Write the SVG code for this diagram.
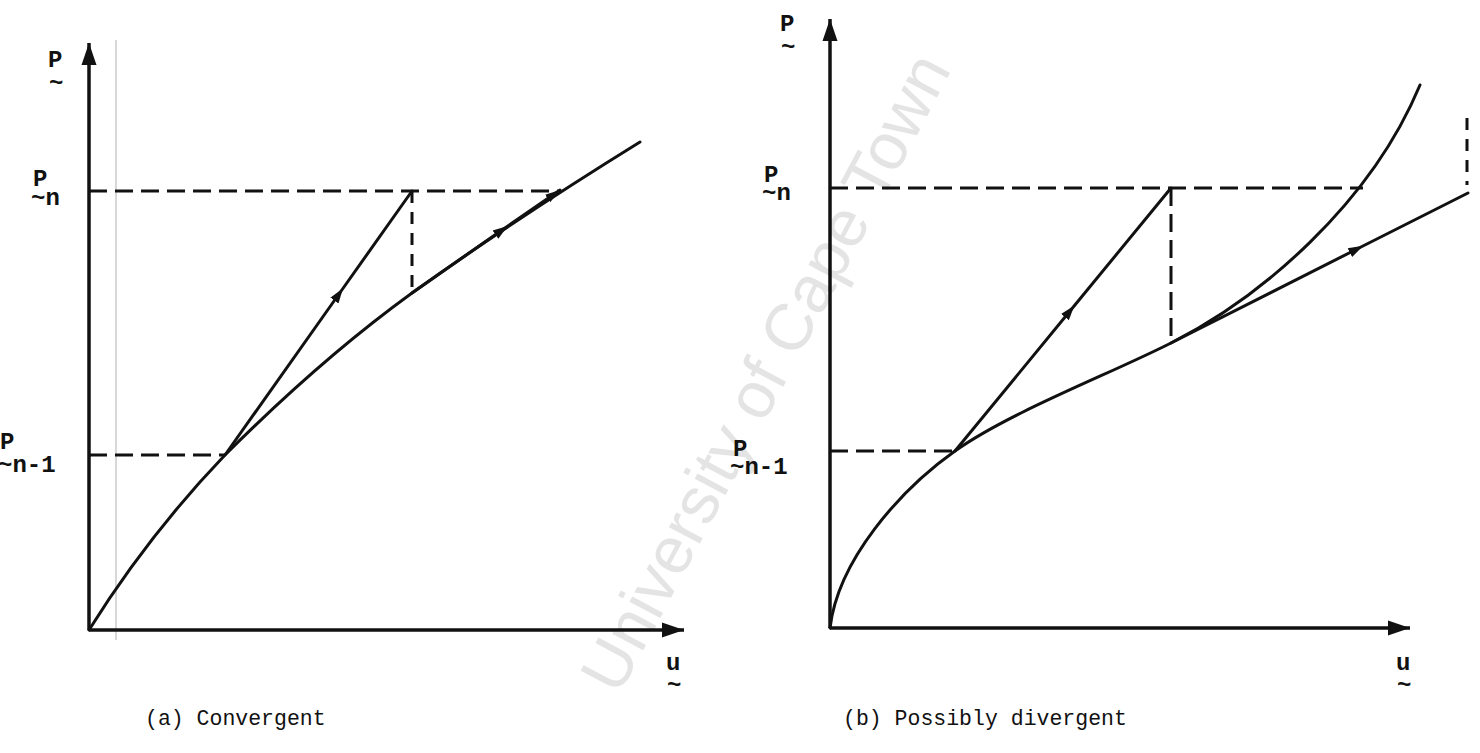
<svg xmlns="http://www.w3.org/2000/svg" width="1480" height="753" viewBox="0 0 1480 753">
<defs>
<marker id="axArr" markerUnits="userSpaceOnUse" markerWidth="24" markerHeight="18" viewBox="0 -9 24 18" refX="22" refY="0" orient="auto">
<path d="M0,-7.5 L22,0 L0,7.5 z" fill="#111"/>
</marker>
<marker id="smArr" markerUnits="userSpaceOnUse" markerWidth="16" markerHeight="12" viewBox="0 -6 16 12" refX="8" refY="0" orient="auto">
<path d="M0,-5 L15,0 L0,5 z" fill="#111"/>
</marker>
<marker id="endArr" markerUnits="userSpaceOnUse" markerWidth="16" markerHeight="12" viewBox="0 -6 16 12" refX="15" refY="0" orient="auto">
<path d="M0,-4.5 L15,0 L0,4.5 z" fill="#111"/>
</marker>
</defs>
<style>
.ax{stroke:#111;stroke-width:3.5;fill:none}
.ln{stroke:#111;stroke-width:3;fill:none;stroke-linecap:round}
.ds{stroke:#111;stroke-width:3;fill:none;stroke-dasharray:18 8}
.dv{stroke:#111;stroke-width:3;fill:none;stroke-dasharray:12 9}
.lb{font-family:"Liberation Mono","DejaVu Sans Mono",monospace;font-size:24px;font-weight:bold;fill:#111}
.cap{font-family:"Liberation Mono","DejaVu Sans Mono",monospace;font-size:21.5px;fill:#111}
.wm{font-family:"Liberation Sans","DejaVu Sans",sans-serif;font-size:66px;fill:#e4e4e4}
</style>
<rect width="1480" height="753" fill="#fff"/>
<text class="wm" x="765" y="372" text-anchor="middle" dominant-baseline="central" transform="rotate(-62 765 372)">University of Cape Town</text>
<line x1="116" y1="40" x2="116" y2="640" stroke="#b0b0b0" stroke-width="1"/>

<g id="panel-a-axes">
<line class="ax" x1="89" y1="630" x2="89" y2="43" marker-end="url(#axArr)"/>
<line class="ax" x1="89" y1="630" x2="684" y2="630" marker-end="url(#axArr)"/>
</g>
<g id="panel-a-labels">
<text class="lb" x="48 49" y="67 90">P~</text>
<text class="lb" x="33 31" y="186 205">P~n</text>
<text class="lb" x="0 -2" y="449 472">P~n-1</text>
<text class="lb" x="666 667" y="670 692">u~</text>
<text class="cap" x="145" y="725">(a) Convergent</text>
</g>
<g id="panel-a-curve">
<path class="ln" d="M89,630 C134,558 180,502 225,455 C288,392 350,338 412,293 C489,238 564,189 640,142"/>
</g>
<g id="panel-a-connectors">
<line class="ds" x1="89" y1="191" x2="558" y2="191"/>
<line class="ds" x1="89" y1="455" x2="225" y2="455"/>
<line class="dv" x1="412" y1="191" x2="412" y2="293"/>
<line class="ln" x1="225" y1="455" x2="339" y2="294" marker-end="url(#smArr)"/>
<line class="ln" x1="339" y1="294" x2="412" y2="191"/>
<line class="ln" x1="412" y1="293" x2="502" y2="230" marker-end="url(#smArr)"/>
<line class="ln" x1="502" y1="230" x2="560" y2="190" marker-end="url(#endArr)"/>
</g>

<g id="panel-b-axes">
<line class="ax" x1="830" y1="628" x2="830" y2="19" marker-end="url(#axArr)"/>
<line class="ax" x1="830" y1="628" x2="1410" y2="628" marker-end="url(#axArr)"/>
</g>
<g id="panel-b-labels">
<text class="lb" x="780 781" y="31 54">P~</text>
<text class="lb" x="764 762" y="182 200">P~n</text>
<text class="lb" x="733 730" y="456 474">P~n-1</text>
<text class="lb" x="1396 1397" y="670 692">u~</text>
<text class="cap" x="843" y="725">(b) Possibly divergent</text>
</g>
<g id="panel-b-curve">
<path class="ln" d="M830,628 C838,560 900,490 955,451 C1010,412 1110,374 1171,343 C1260,298 1370,205 1420,85"/>
</g>
<g id="panel-b-connectors">
<line class="ds" x1="830" y1="188" x2="1363" y2="188"/>
<line class="ds" x1="830" y1="451" x2="955" y2="451"/>
<line class="ds" x1="1171" y1="188" x2="1171" y2="343"/>
<line class="dv" x1="1467" y1="118" x2="1467" y2="185"/>
<line class="ln" x1="955" y1="451" x2="1070" y2="311" marker-end="url(#smArr)"/>
<line class="ln" x1="1070" y1="311" x2="1171" y2="188"/>
<line class="ln" x1="1171" y1="343" x2="1357" y2="249" marker-end="url(#smArr)"/>
<line class="ln" x1="1357" y1="249" x2="1468" y2="193"/>
</g>
</svg>
